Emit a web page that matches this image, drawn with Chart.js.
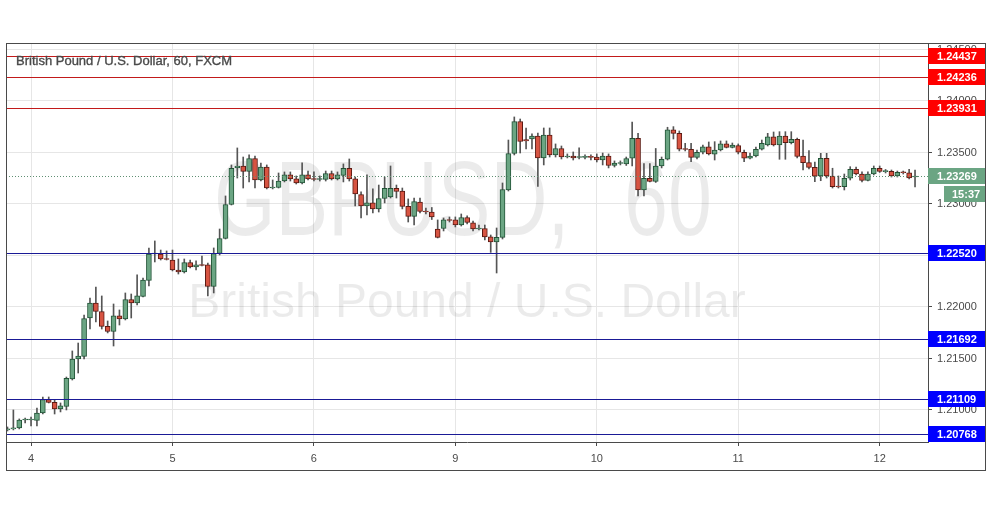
<!DOCTYPE html>
<html>
<head>
<meta charset="utf-8">
<script src="https://cdn.jsdelivr.net/npm/chart.js@4.4.0/dist/chart.umd.min.js"></script>
<style>
  html, body { margin: 0; padding: 0; background: #fff; }
  canvas { display: block; }
</style>
</head>
<body>
<canvas id="chart" width="991" height="507"></canvas>
<script>
// GBP/USD hourly candles (FXCM)
const open = [
  1.20806, 1.20816, 1.20825, 1.20903, 1.20903, 1.20898, 1.20971, 1.21102, 1.21073, 1.21010,
  1.21034, 1.21301, 1.21495, 1.21519, 1.21893, 1.22039, 1.21956, 1.21811, 1.21762, 1.21913,
  1.21884, 1.22073, 1.22039, 1.22102, 1.22257, 1.22514, 1.22514, 1.22466, 1.22456, 1.22359,
  1.22340, 1.22432, 1.22389, 1.22408, 1.22408, 1.22199, 1.22519, 1.22665, 1.22995, 1.23350,
  1.23369, 1.23316, 1.23442, 1.23233, 1.23359, 1.23155, 1.23160, 1.23223, 1.23282, 1.23243,
  1.23204, 1.23282, 1.23243, 1.23238, 1.23238, 1.23296, 1.23243, 1.23277, 1.23345, 1.23243,
  1.23092, 1.22981, 1.23010, 1.22952, 1.23053, 1.23068, 1.23151, 1.23126, 1.22976, 1.22879,
  1.23019, 1.22927, 1.22922, 1.22757, 1.22762, 1.22845, 1.22845, 1.22796, 1.22869, 1.22816,
  1.22757, 1.22762, 1.22680, 1.22631, 1.22675, 1.23136, 1.23490, 1.23801, 1.23626, 1.23631,
  1.23660, 1.23447, 1.23670, 1.23476, 1.23539, 1.23456, 1.23466, 1.23451, 1.23453, 1.23456,
  1.23456, 1.23427, 1.23466, 1.23374, 1.23393, 1.23388, 1.23444, 1.23638, 1.23136, 1.23250,
  1.23218, 1.23369, 1.23434, 1.23719, 1.23686, 1.23531, 1.23531, 1.23453, 1.23502, 1.23556,
  1.23483, 1.23524, 1.23583, 1.23550, 1.23566, 1.23502, 1.23444, 1.23466, 1.23531, 1.23573,
  1.23653, 1.23573, 1.23660, 1.23595, 1.23628, 1.23466, 1.23401, 1.23356, 1.23272, 1.23444,
  1.23272, 1.23168, 1.23168, 1.23250, 1.23337, 1.23291, 1.23228, 1.23291, 1.23347, 1.23314,
  1.23316, 1.23272, 1.23308, 1.23303, 1.23262
];
const high = [
  1.20835, 1.21000, 1.20913, 1.20922, 1.20932, 1.21019, 1.21126, 1.21126, 1.21097, 1.21068,
  1.21320, 1.21573, 1.21650, 1.21922, 1.22087, 1.22194, 1.22107, 1.21864, 1.22029, 1.21971,
  1.22136, 1.22126, 1.22311, 1.22281, 1.22573, 1.22641, 1.22553, 1.22544, 1.22553, 1.22466,
  1.22466, 1.22456, 1.22447, 1.22495, 1.22427, 1.22573, 1.22757, 1.23078, 1.23379, 1.23544,
  1.23456, 1.23476, 1.23466, 1.23398, 1.23379, 1.23233, 1.23301, 1.23311, 1.23311, 1.23272,
  1.23400, 1.23320, 1.23311, 1.23272, 1.23320, 1.23320, 1.23311, 1.23389, 1.23437, 1.23262,
  1.23117, 1.23282, 1.23146, 1.23184, 1.23262, 1.23369, 1.23184, 1.23155, 1.23049, 1.23058,
  1.23058, 1.22961, 1.22966, 1.22845, 1.22864, 1.22874, 1.22874, 1.22903, 1.22884, 1.22835,
  1.22796, 1.22796, 1.22699, 1.22767, 1.23204, 1.23621, 1.23845, 1.23825, 1.23738, 1.23680,
  1.23689, 1.23738, 1.23738, 1.23583, 1.23563, 1.23486, 1.23505, 1.23544, 1.23476, 1.23476,
  1.23486, 1.23495, 1.23486, 1.23418, 1.23418, 1.23456, 1.23796, 1.23685, 1.23393, 1.23393,
  1.23539, 1.23456, 1.23745, 1.23751, 1.23709, 1.23589, 1.23589, 1.23524, 1.23573, 1.23602,
  1.23605, 1.23612, 1.23612, 1.23592, 1.23583, 1.23524, 1.23495, 1.23553, 1.23621, 1.23686,
  1.23699, 1.23702, 1.23702, 1.23702, 1.23641, 1.23621, 1.23518, 1.23408, 1.23492, 1.23492,
  1.23347, 1.23272, 1.23291, 1.23362, 1.23359, 1.23311, 1.23311, 1.23369, 1.23369, 1.23335,
  1.23330, 1.23320, 1.23320, 1.23337, 1.23330
];
const low = [
  1.20796, 1.20806, 1.20816, 1.20874, 1.20845, 1.20845, 1.20961, 1.21068, 1.20961, 1.20981,
  1.21000, 1.21291, 1.21359, 1.21495, 1.21786, 1.21854, 1.21786, 1.21748, 1.21621, 1.21825,
  1.21874, 1.21893, 1.22019, 1.22097, 1.22204, 1.22437, 1.22456, 1.22456, 1.22350, 1.22320,
  1.22330, 1.22379, 1.22359, 1.22398, 1.22107, 1.22136, 1.22505, 1.22660, 1.22990, 1.23252,
  1.23155, 1.23214, 1.23155, 1.23223, 1.23146, 1.23146, 1.23155, 1.23214, 1.23223, 1.23194,
  1.23194, 1.23233, 1.23223, 1.23223, 1.23223, 1.23233, 1.23233, 1.23214, 1.23223, 1.22981,
  1.22864, 1.22893, 1.22913, 1.22922, 1.23010, 1.23058, 1.23058, 1.22952, 1.22825, 1.22796,
  1.22913, 1.22903, 1.22849, 1.22670, 1.22738, 1.22825, 1.22777, 1.22786, 1.22806, 1.22738,
  1.22748, 1.22651, 1.22530, 1.22330, 1.22660, 1.23126, 1.23476, 1.23495, 1.23534, 1.23534,
  1.23170, 1.23379, 1.23456, 1.23456, 1.23437, 1.23447, 1.23427, 1.23437, 1.23437, 1.23427,
  1.23408, 1.23379, 1.23350, 1.23359, 1.23379, 1.23374, 1.23369, 1.23078, 1.23078, 1.23214,
  1.23209, 1.23350, 1.23427, 1.23631, 1.23515, 1.23515, 1.23411, 1.23437, 1.23486, 1.23476,
  1.23427, 1.23515, 1.23544, 1.23544, 1.23486, 1.23411, 1.23437, 1.23456, 1.23524, 1.23563,
  1.23563, 1.23434, 1.23434, 1.23583, 1.23447, 1.23330, 1.23340, 1.23217, 1.23226, 1.23252,
  1.23155, 1.23155, 1.23136, 1.23233, 1.23282, 1.23214, 1.23223, 1.23282, 1.23306, 1.23301,
  1.23262, 1.23262, 1.23291, 1.23243, 1.23165
];
const close = [
  1.20816, 1.20820, 1.20903, 1.20905, 1.20908, 1.20971, 1.21102, 1.21073, 1.21010, 1.21039,
  1.21306, 1.21495, 1.21524, 1.21888, 1.22039, 1.21956, 1.21811, 1.21762, 1.21913, 1.21884,
  1.22073, 1.22039, 1.22107, 1.22262, 1.22514, 1.22524, 1.22466, 1.22461, 1.22359, 1.22340,
  1.22432, 1.22389, 1.22408, 1.22403, 1.22199, 1.22519, 1.22665, 1.22995, 1.23345, 1.23369,
  1.23316, 1.23442, 1.23233, 1.23359, 1.23155, 1.23160, 1.23223, 1.23282, 1.23243, 1.23204,
  1.23282, 1.23243, 1.23238, 1.23243, 1.23296, 1.23243, 1.23282, 1.23345, 1.23243, 1.23097,
  1.22981, 1.23010, 1.22952, 1.23053, 1.23151, 1.23151, 1.23121, 1.22976, 1.22879, 1.23024,
  1.22927, 1.22922, 1.22874, 1.22675, 1.22845, 1.22840, 1.22796, 1.22869, 1.22820, 1.22757,
  1.22762, 1.22680, 1.22631, 1.22675, 1.23141, 1.23490, 1.23801, 1.23607, 1.23612, 1.23660,
  1.23447, 1.23670, 1.23476, 1.23539, 1.23456, 1.23461, 1.23447, 1.23453, 1.23456, 1.23453,
  1.23427, 1.23466, 1.23374, 1.23398, 1.23398, 1.23442, 1.23638, 1.23136, 1.23250, 1.23218,
  1.23369, 1.23434, 1.23719, 1.23686, 1.23531, 1.23529, 1.23453, 1.23502, 1.23556, 1.23486,
  1.23524, 1.23583, 1.23550, 1.23573, 1.23502, 1.23444, 1.23466, 1.23531, 1.23589, 1.23653,
  1.23573, 1.23660, 1.23595, 1.23628, 1.23461, 1.23401, 1.23356, 1.23269, 1.23444, 1.23272,
  1.23168, 1.23165, 1.23250, 1.23337, 1.23291, 1.23228, 1.23291, 1.23347, 1.23316, 1.23316,
  1.23272, 1.23308, 1.23303, 1.23252, 1.23269
];

// time axis: candle index where each day starts, and its label
const dayStart = [4, 28, 52, 76, 100, 124, 148];
const dayLabels = ['4', '5', '6', '9', '10', '11', '12'];

// price axis ticks
const priceTicks = [1.210, 1.215, 1.220, 1.225, 1.230, 1.235, 1.240, 1.245];

// drawn levels
const resistance = [1.24437, 1.24236, 1.23931];
const support = [1.22520, 1.21692, 1.21109, 1.20768];
const lastPrice = 1.23269;
const countdown = '15:37';

const FONT = '"Liberation Sans", Arial, sans-serif';

const isUp = close.map((c, i) => c >= open[i]);
const bodies = open.map((o, i) => ({ x: i, y: [o, close[i]] }));
const wicks = low.map((l, i) => ({ x: i, y: [l, high[i]] }));

// narrow watermark text (the symbol line is drawn condensed)
function squeezed(ctx, text, x, y, size, sx) {
  ctx.save();
  ctx.translate(x, y);
  ctx.scale(sx, 1);
  ctx.font = size + 'px ' + FONT;
  ctx.fillText(text, 0, 0);
  ctx.restore();
}

const overlay = {
  id: 'overlay',
  beforeDatasetsDraw(chart) {
    const { ctx, chartArea: a } = chart;
    ctx.save();
    ctx.fillStyle = 'rgba(0,0,0,0.08)';
    ctx.textBaseline = 'alphabetic';
    ctx.textAlign = 'left';
    squeezed(ctx, 'GBPUSD,', 214, 235, 106, 0.745);
    squeezed(ctx, '60', 624, 235, 106, 0.745);
    ctx.textAlign = 'center';
    ctx.font = '48px ' + FONT;
    ctx.fillText('British Pound / U.S. Dollar', (a.left + a.right) / 2, 317);
    ctx.restore();
  },
  afterDatasetsDraw(chart) {
    const { ctx, chartArea: a, scales: { y } } = chart;
    ctx.save();
    ctx.lineWidth = 1;
    const hline = (v, col) => {
      const py = Math.round(y.getPixelForValue(v)) + 0.5;
      ctx.strokeStyle = col;
      ctx.beginPath();
      ctx.moveTo(a.left, py);
      ctx.lineTo(a.right, py);
      ctx.stroke();
    };
    resistance.forEach(v => hline(v, '#c21a1a'));
    support.forEach(v => hline(v, '#1a1a96'));
    // last price dotted line
    const py = Math.round(y.getPixelForValue(lastPrice)) + 0.5;
    ctx.setLineDash([1, 2]);
    ctx.strokeStyle = '#5f8f72';
    ctx.beginPath();
    ctx.moveTo(a.left, py);
    ctx.lineTo(a.right, py);
    ctx.stroke();
    ctx.restore();
  },
  afterDraw(chart) {
    const { ctx, chartArea: a, scales: { y } } = chart;
    ctx.save();
    const right = 985;
    const box = (v, bg, text) => {
      const py = Math.round(y.getPixelForValue(v));
      ctx.fillStyle = bg;
      ctx.fillRect(a.right, py - 8, right - a.right, 16);
      ctx.fillStyle = '#fff';
      ctx.font = 'bold 11px ' + FONT;
      ctx.textBaseline = 'middle';
      ctx.textAlign = 'left';
      ctx.fillText(text, a.right + 9, py + 0.5);
    };
    resistance.forEach(v => box(v, '#ff0000', v.toFixed(5)));
    support.forEach(v => box(v, '#0000ff', v.toFixed(5)));
    box(lastPrice, '#6ba583', lastPrice.toFixed(5));
    // countdown to bar close
    const py = Math.round(y.getPixelForValue(lastPrice));
    ctx.fillStyle = '#6ba583';
    ctx.fillRect(944, py + 10, right - 944, 16);
    ctx.fillStyle = '#fff';
    ctx.fillText(countdown, 952, py + 18.5);

    // symbol line at top left
    ctx.fillStyle = '#4a4a4a';
    ctx.strokeStyle = '#4a4a4a';
    ctx.lineWidth = 0.35;
    ctx.font = '13px ' + FONT;
    ctx.fillText('British Pound / U.S. Dollar, 60, FXCM', 16, 61);
    ctx.strokeText('British Pound / U.S. Dollar, 60, FXCM', 16, 61);

    // outer frame
    ctx.strokeStyle = '#4a4a4a';
    ctx.lineWidth = 1;
    ctx.strokeRect(6.5, 43.5, right - 6, 470 - 43);
    ctx.restore();
  }
};

new Chart(document.getElementById('chart'), {
  type: 'bar',
  data: {
    datasets: [
      {
        data: bodies,
        backgroundColor: isUp.map(u => u ? '#6ba583' : '#d75442'),
        borderColor: isUp.map(u => u ? '#225437' : '#5b1a13'),
        borderWidth: 1,
        borderSkipped: false,
        barThickness: 5,
        minBarLength: 1,
        grouped: false
      },
      {
        data: wicks,
        backgroundColor: '#555555',
        barThickness: 1,
        minBarLength: 1,
        grouped: false
      }
    ]
  },
  options: {
    responsive: false,
    animation: false,
    events: [],
    layout: { padding: { left: 6, top: 43, right: 6, bottom: 37 } },
    plugins: { legend: { display: false }, tooltip: { enabled: false } },
    scales: {
      x: {
        type: 'linear',
        min: -0.25,
        max: 156.2,
        offset: false,
        afterBuildTicks: s => { s.ticks = dayStart.map(v => ({ value: v })); },
        afterFit: s => { s.height = 28; },
        ticks: {
          callback: v => dayLabels[dayStart.indexOf(v)] || '',
          autoSkip: false,
          maxRotation: 0,
          padding: 6,
          color: '#4a4a4a',
          font: { family: FONT, size: 11 }
        },
        grid: { offset: false, color: '#e6e6e6', tickColor: '#4a4a4a', tickLength: 4 },
        border: { color: '#4a4a4a' }
      },
      y: {
        position: 'right',
        min: 1.20689,
        max: 1.24563,
        afterBuildTicks: s => { s.ticks = priceTicks.map(v => ({ value: v })); },
        afterFit: s => { s.width = 57; },
        ticks: {
          callback: v => v.toFixed(5),
          padding: 5,
          color: '#4a4a4a',
          font: { family: FONT, size: 11 }
        },
        grid: { color: '#e6e6e6', tickColor: '#4a4a4a', tickLength: 4 },
        border: { color: '#4a4a4a' }
      }
    }
  },
  plugins: [overlay]
});
</script>
</body>
</html>
